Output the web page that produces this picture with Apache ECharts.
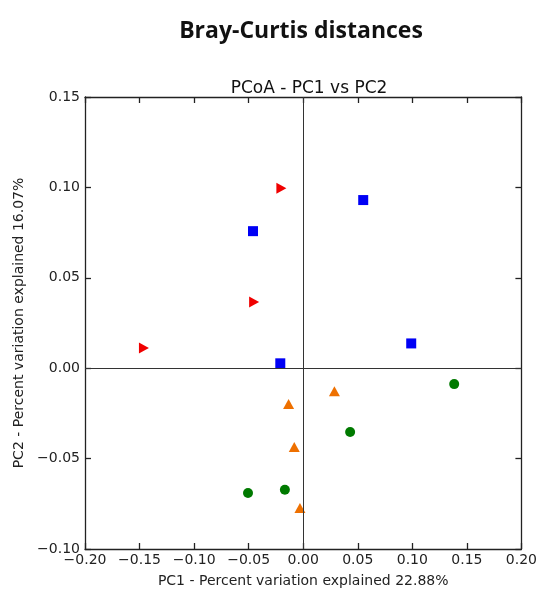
<!DOCTYPE html>
<html>
<head>
<meta charset="utf-8">
<script src="https://cdn.jsdelivr.net/npm/echarts@6/dist/echarts.min.js"></script>
<style>
  html, body { margin: 0; padding: 0; background: #fff; }
  #chart { width: 540px; height: 593px; }
</style>
</head>
<body>
<div id="chart"></div>
<script>
// PCoA coordinates
var redX = [-0.020, -0.045, -0.146];
var redY = [0.0995, 0.0366, 0.0112];
var blueX = [-0.046, 0.055, 0.099, -0.021];
var blueY = [0.0758, 0.0930, 0.0137, 0.0027];
var orangeX = [-0.0134, 0.0286, -0.0082, -0.0030];
var orangeY = [-0.0198, -0.0128, -0.0436, -0.0773];
var greenX = [0.1384, 0.043, -0.0506, -0.0168];
var greenY = [-0.0088, -0.0353, -0.0690, -0.0672];

function pairs(xs, ys) {
  var res = [];
  for (var i = 0; i < xs.length; i++) {
    res.push([xs[i], ys[i]]);
  }
  return res;
}

function fmt(v) {
  return v.toFixed(2).replace('-', '\u2212');
}

var tickFont = 'DejaVu Sans';
var frameLine = { show: true, onZero: false, lineStyle: { color: '#222', width: 1.3 } };
var inTick = { show: true, inside: true, length: 6, lineStyle: { color: '#222', width: 1.3 } };

var myChart = echarts.init(document.getElementById('chart'));
var option = {
  backgroundColor: '#fff',
  animation: false,
  title: [
    {
      text: 'Bray-Curtis distances',
      left: 296,
      top: 15,
      textAlign: 'center',
      textStyle: { fontFamily: 'Open Sans', fontWeight: 'bold', fontSize: 23, color: '#111' }
    },
    {
      text: 'PCoA - PC1 vs PC2',
      left: 304,
      top: 75,
      textAlign: 'center',
      textStyle: { fontFamily: tickFont, fontWeight: 'normal', fontSize: 17, color: '#111' }
    }
  ],
  grid: { left: 85, right: 18, top: 97, bottom: 41 },
  xAxis: [
    {
      type: 'value', position: 'bottom', min: -0.2, max: 0.2, interval: 0.05,
      axisLine: frameLine, axisTick: inTick, splitLine: { show: false },
      axisLabel: { formatter: fmt, fontFamily: tickFont, fontSize: 14, color: '#222', margin: 4 },
      name: 'PC1 - Percent variation explained 22.88%',
      nameLocation: 'middle', nameGap: 25,
      nameTextStyle: { fontFamily: tickFont, fontSize: 14, color: '#222' }
    },
    {
      type: 'value', position: 'top', min: -0.2, max: 0.2, interval: 0.05,
      axisLine: frameLine, axisTick: inTick, splitLine: { show: false },
      axisLabel: { show: false }
    }
  ],
  yAxis: [
    {
      type: 'value', position: 'left', min: -0.1, max: 0.15, interval: 0.05,
      axisLine: frameLine, axisTick: inTick, splitLine: { show: false },
      axisLabel: { formatter: fmt, fontFamily: tickFont, fontSize: 14, color: '#222', margin: 5 },
      name: 'PC2 - Percent variation explained 16.07%',
      nameLocation: 'middle', nameGap: 50,
      nameTextStyle: { fontFamily: tickFont, fontSize: 14, color: '#222' }
    },
    {
      type: 'value', position: 'right', min: -0.1, max: 0.15, interval: 0.05,
      axisLine: frameLine, axisTick: inTick, splitLine: { show: false },
      axisLabel: { show: false }
    }
  ],
  series: [
    {
      type: 'scatter',
      data: pairs(redX, redY),
      symbol: 'triangle',
      symbolSize: [11, 10],
      symbolRotate: -90,
      itemStyle: { color: '#f00000', opacity: 1 },
      markLine: {
        silent: true,
        symbol: ['none', 'none'],
        label: { show: false },
        lineStyle: { color: '#333', width: 1, type: 'solid' },
        data: [{ xAxis: 0 }, { yAxis: 0 }]
      },
      z: 3
    },
    {
      type: 'scatter',
      data: pairs(blueX, blueY),
      symbol: 'rect',
      symbolSize: 10,
      itemStyle: { color: '#0000f5', opacity: 1 },
      z: 3
    },
    {
      type: 'scatter',
      data: pairs(orangeX, orangeY),
      symbol: 'triangle',
      symbolSize: [11, 10],
      itemStyle: { color: '#ee7000', opacity: 1 },
      z: 3
    },
    {
      type: 'scatter',
      data: pairs(greenX, greenY),
      symbol: 'circle',
      symbolSize: 10,
      itemStyle: { color: '#007a00', opacity: 1 },
      z: 3
    }
  ]
};
myChart.setOption(option);
</script>
</body>
</html>
